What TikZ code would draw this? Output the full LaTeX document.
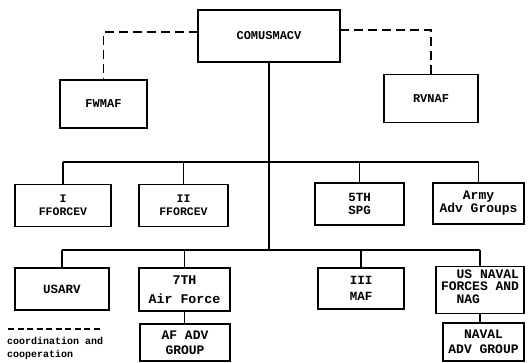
\documentclass[tikz,border=0pt]{standalone}
\usepackage{fontspec}
\setmonofont{Liberation Mono}
\begin{document}
\begin{tikzpicture}[x=1pt,y=-1pt,
  box/.style={draw, line width=1.2pt, inner sep=0pt, outer sep=0pt, align=center},
  fs/.style={font=\fontsize{#1}{#1}\selectfont\ttfamily\bfseries},
  ln/.style={line width=1.2pt},
  cd/.style={line width=1.2pt, dash pattern=on 9pt off 5pt}]
\useasboundingbox (0,0) rectangle (532,362);
% top
\node[box, fs=12, minimum width=142pt, minimum height=52pt] (top) at (269,36) {COMUSMACV};
\node[box, fs=12, minimum width=87pt, minimum height=48pt] (fw) at (103.5,104) {FWMAF};
\node[box, fs=12, minimum width=94pt, minimum height=48pt] (rv) at (431,98.5) {RVNAF};
% row 1
\node[box, font=\fontsize{11.5}{13}\selectfont\ttfamily\bfseries, minimum width=96pt, minimum height=42pt] (i1) at (63,205.5) {I\\FFORCEV};
\node[box, font=\fontsize{11.5}{13}\selectfont\ttfamily\bfseries, minimum width=89pt, minimum height=42pt] (i2) at (183.5,205.5) {II\\FFORCEV};
\node[box, font=\fontsize{12.5}{13}\selectfont\ttfamily\bfseries, minimum width=89pt, minimum height=42pt] (spg) at (359.5,204) {5TH\\SPG};
\node[box, font=\fontsize{13}{13}\selectfont\ttfamily\bfseries, minimum width=91pt, minimum height=41pt] (army) at (478.5,203.5) {Army\\Adv Groups};
% row 2
\node[box, fs=12.5, minimum width=94pt, minimum height=42pt] (usarv) at (62,289) {USARV};
\node[box, font=\fontsize{13.3}{19}\selectfont\ttfamily\bfseries, minimum width=91pt, minimum height=43pt] (af7) at (184.5,289.5) {7TH\\Air Force};
\node[box, font=\fontsize{12.5}{16}\selectfont\ttfamily\bfseries, minimum width=86pt, minimum height=41pt] (maf) at (361,288.5) {III\\MAF};
\node[box, align=left, font=\fontsize{13}{12.5}\selectfont\ttfamily\bfseries, minimum width=88pt, minimum height=47pt] (nav) at (480,290) {\hphantom{XX}US NAVAL\\FORCES AND\\\hphantom{XX}NAG\\[-5pt]\mbox{}};
% row 3
\node[box, font=\fontsize{13}{15}\selectfont\ttfamily\bfseries, minimum width=90pt, minimum height=37pt] (afadv) at (185,342.5) {AF ADV\\GROUP};
\node[box, font=\fontsize{13}{15}\selectfont\ttfamily\bfseries, minimum width=81pt, minimum height=38pt] (navadv) at (483.5,342) {NAVAL\\ADV GROUP};
% buses
\coordinate (b1) at (0,162);
\coordinate (b2) at (0,250);
\draw[ln] (top.south) -- (top.south |- b2);
\draw[ln] (i1.north |- b1) -- (army.north |- b1);
\foreach \n in {i1,i2,spg,army} \draw[ln] (\n.north) -- (\n.north |- b1);
\draw[ln] (usarv.north |- b2) -- (nav.north |- b2);
\foreach \n in {usarv,af7,maf,nav} \draw[ln] (\n.north) -- (\n.north |- b2);
\draw[ln] (af7.south) -- (af7.south |- afadv.north);
\draw[ln] (nav.south) -- (nav.south |- navadv.north);
% coordination
\draw[cd] ([yshift=4pt]top.west) -| (fw.north);
\draw[cd] ([yshift=6pt]top.east) -| (rv.north);
% legend
\coordinate (l1) at (8,329);
\coordinate (l2) at (100,329);
\draw[line width=1.2pt, dash pattern=on 6pt off 3.5pt] (l1) -- (l2);
\node[anchor=north west, inner sep=0pt, align=left, font=\fontsize{10}{13}\selectfont\ttfamily\bfseries] (leg) at (7,337) {coordination and\\cooperation};
\end{tikzpicture}
\end{document}
